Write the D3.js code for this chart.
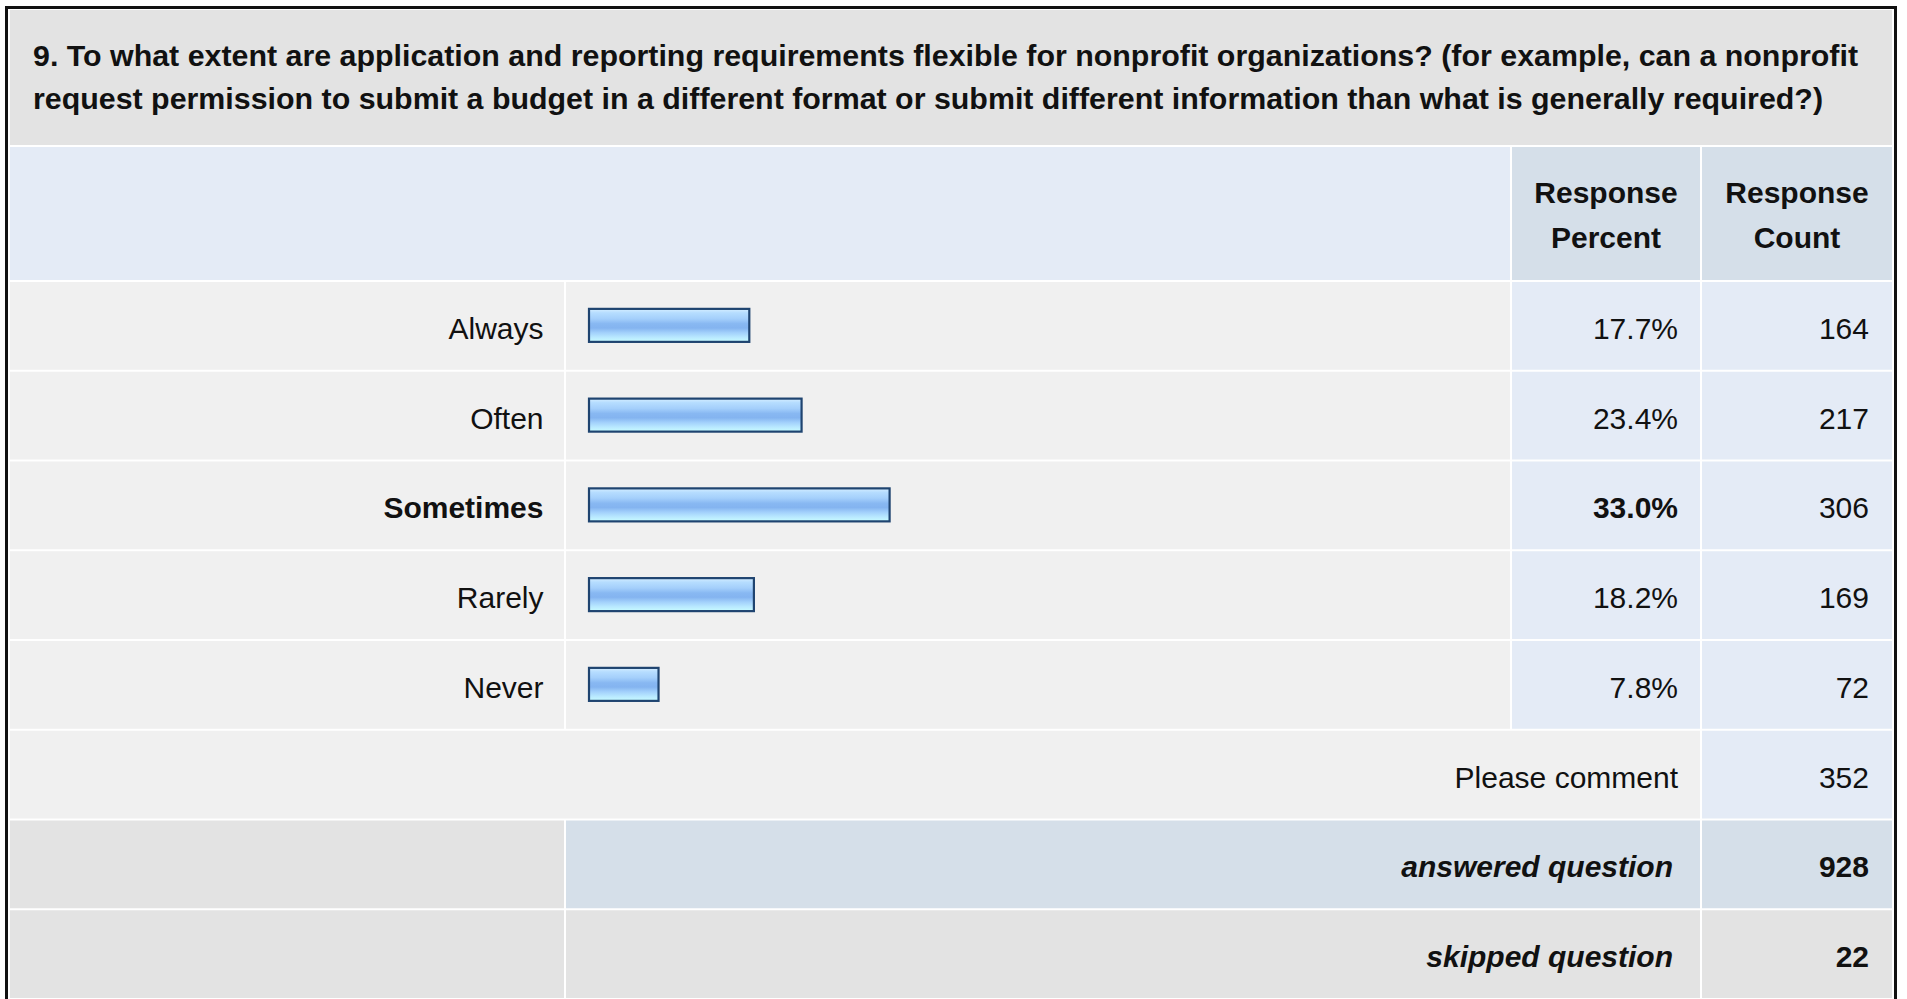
<!DOCTYPE html>
<meta charset="utf-8">
<style>
body { margin: 0; background: #fff; }
svg { display: block; font-family: "Liberation Sans", Arial, Helvetica, sans-serif; }
</style>
<body>
<svg width="1907" height="999"></svg>
<script src="https://cdn.jsdelivr.net/npm/d3@7"></script>
<script>

// question text (two lines as in the survey export)
var titleLines = [
  "9. To what extent are application and reporting requirements flexible for nonprofit organizations? (for example, can a nonprofit",
  "request permission to submit a budget in a different format or submit different information than what is generally required?)"
];

var categories = ["Always", "Often", "Sometimes", "Rarely", "Never"];
var percents = [17.7, 23.4, 33.0, 18.2, 7.8];
var counts = [164, 217, 306, 169, 72];

var headerLabels = [["Response", "Percent"], ["Response", "Count"]];
var commentLabel = "Please comment";
var commentCount = 352;
var footerLabels = ["answered question", "skipped question"];
var footerCounts = [928, 22];

var svg = d3.select("svg"),
    width = +svg.attr("width"),
    height = +svg.attr("height");

// column edges
var left = 10, right = 1892;
var colLabel = [left, 564], colBar = [566, 1510], colPct = [1512, 1700], colCnt = [1702, right];

var rowKeys = categories.concat(["comment", "answered", "skipped"]);
var y = d3.scaleBand()
    .domain(rowKeys)
    .range([282, 282 + rowKeys.length * 89.75 - 2])
    .paddingInner(2 / 89.75);

var x = d3.scaleLinear().domain([0, 100]).range([588, 1505]);

var defs = svg.append("defs");
var grad = defs.append("linearGradient")
    .attr("id", "barfill")
    .attr("x1", 0).attr("y1", 0).attr("x2", 0).attr("y2", 1);
[["0", "#d6eeff"], ["0.12", "#b6ddff"], ["0.3", "#a4cffb"], ["0.45", "#88b8f2"],
 ["0.58", "#84b4f0"], ["0.72", "#a2d0fb"], ["0.86", "#b8e8ff"], ["1", "#c8fcff"]]
  .forEach(function(s) { grad.append("stop").attr("offset", s[0]).attr("stop-color", s[1]); });

function cell(x0, x1, y0, y1, fill) {
  svg.append("rect")
      .attr("x", x0).attr("y", y0)
      .attr("width", x1 - x0).attr("height", y1 - y0)
      .attr("fill", fill);
}

// title block
cell(left, right, 10, 145, "#e3e3e3");
svg.selectAll("text.title")
    .data(titleLines)
  .enter().append("text")
    .attr("class", "title")
    .attr("x", 33)
    .attr("y", function(d, i) { return 65.5 + i * 43.5; })
    .attr("textLength", function(d, i) { return i == 0 ? 1825 : 1790; })
    .attr("lengthAdjust", "spacingAndGlyphs")
    .style("font-size", "29px")
    .style("font-weight", "bold")
    .attr("fill", "#111")
    .text(function(d) { return d; });

// header row
cell(left, colBar[1], 147, 280, "#e4ebf6");
cell(colPct[0], colPct[1], 147, 280, "#d5dfe9");
cell(colCnt[0], colCnt[1], 147, 280, "#d5dfe9");
[colPct, colCnt].forEach(function(c, k) {
  svg.append("text")
      .attr("x", (c[0] + c[1]) / 2)
      .attr("text-anchor", "middle")
      .style("font-size", "30px")
      .style("font-weight", "bold")
      .attr("fill", "#111")
    .selectAll("tspan")
      .data(headerLabels[k])
    .enter().append("tspan")
      .attr("x", (c[0] + c[1]) / 2)
      .attr("y", function(d, i) { return 203 + i * 45; })
      .text(function(d) { return d; });
});

var maxPct = d3.max(percents);

// answer rows
categories.forEach(function(c, i) {
  var y0 = y(c), y1 = y0 + y.bandwidth(), mid = (y0 + y1) / 2;
  var strong = percents[i] === maxPct ? "bold" : "normal";
  cell(colLabel[0], colLabel[1], y0, y1, "#f0f0f0");
  cell(colBar[0], colBar[1], y0, y1, "#f0f0f0");
  cell(colPct[0], colPct[1], y0, y1, "#e4ebf6");
  cell(colCnt[0], colCnt[1], y0, y1, "#e4ebf6");

  svg.append("rect")
      .attr("x", x(0) + 1)
      .attr("y", mid - 17)
      .attr("width", x(percents[i]) - x(0) - 2)
      .attr("height", 33)
      .attr("fill", "url(#barfill)")
      .attr("stroke", "#1f4470")
      .attr("stroke-width", 2.2);

  svg.append("text")
      .attr("x", 543.5).attr("y", mid + 13)
      .attr("text-anchor", "end")
      .style("font-size", "30px").style("font-weight", strong)
      .attr("fill", "#111")
      .text(c);
  svg.append("text")
      .attr("x", 1678).attr("y", mid + 13)
      .attr("text-anchor", "end")
      .style("font-size", "30px").style("font-weight", strong)
      .attr("fill", "#111")
      .text(d3.format(".1f")(percents[i]) + "%");
  svg.append("text")
      .attr("x", 1869).attr("y", mid + 13)
      .attr("text-anchor", "end")
      .style("font-size", "30px")
      .attr("fill", "#111")
      .text(counts[i]);
});

// comment row
var cy0 = y("comment"), cy1 = cy0 + y.bandwidth(), cmid = (cy0 + cy1) / 2;
cell(left, colPct[1], cy0, cy1, "#f0f0f0");
cell(colCnt[0], colCnt[1], cy0, cy1, "#e4ebf6");
svg.append("text")
    .attr("x", 1678).attr("y", cmid + 13)
    .attr("text-anchor", "end")
    .style("font-size", "30px").attr("fill", "#111")
    .text(commentLabel);
svg.append("text")
    .attr("x", 1869).attr("y", cmid + 13)
    .attr("text-anchor", "end")
    .style("font-size", "30px").attr("fill", "#111")
    .text(commentCount);

// answered / skipped
["answered", "skipped"].forEach(function(k, i) {
  var y0 = y(k), y1 = Math.min(y0 + y.bandwidth(), height), mid = y0 + y.bandwidth() / 2;
  var fill = i == 0 ? "#d5dfe9" : "#e3e3e3";
  cell(colLabel[0], colLabel[1], y0, y1, "#e3e3e3");
  cell(colBar[0], colPct[1], y0, y1, fill);
  cell(colCnt[0], colCnt[1], y0, y1, fill);
  svg.append("text")
      .attr("x", 1673).attr("y", mid + 12.5)
      .attr("text-anchor", "end")
      .style("font-size", "30px").style("font-weight", "bold").style("font-style", "italic")
      .attr("fill", "#111")
      .text(footerLabels[i]);
  svg.append("text")
      .attr("x", 1869).attr("y", mid + 12.5)
      .attr("text-anchor", "end")
      .style("font-size", "30px").style("font-weight", "bold")
      .attr("fill", "#111")
      .text(footerCounts[i]);
});

// outer frame
svg.append("rect")
    .attr("x", 6.5).attr("y", 7.5)
    .attr("width", 1889).attr("height", 1100)
    .attr("fill", "none")
    .attr("stroke", "#111")
    .attr("stroke-width", 3);

</script>
</body>
